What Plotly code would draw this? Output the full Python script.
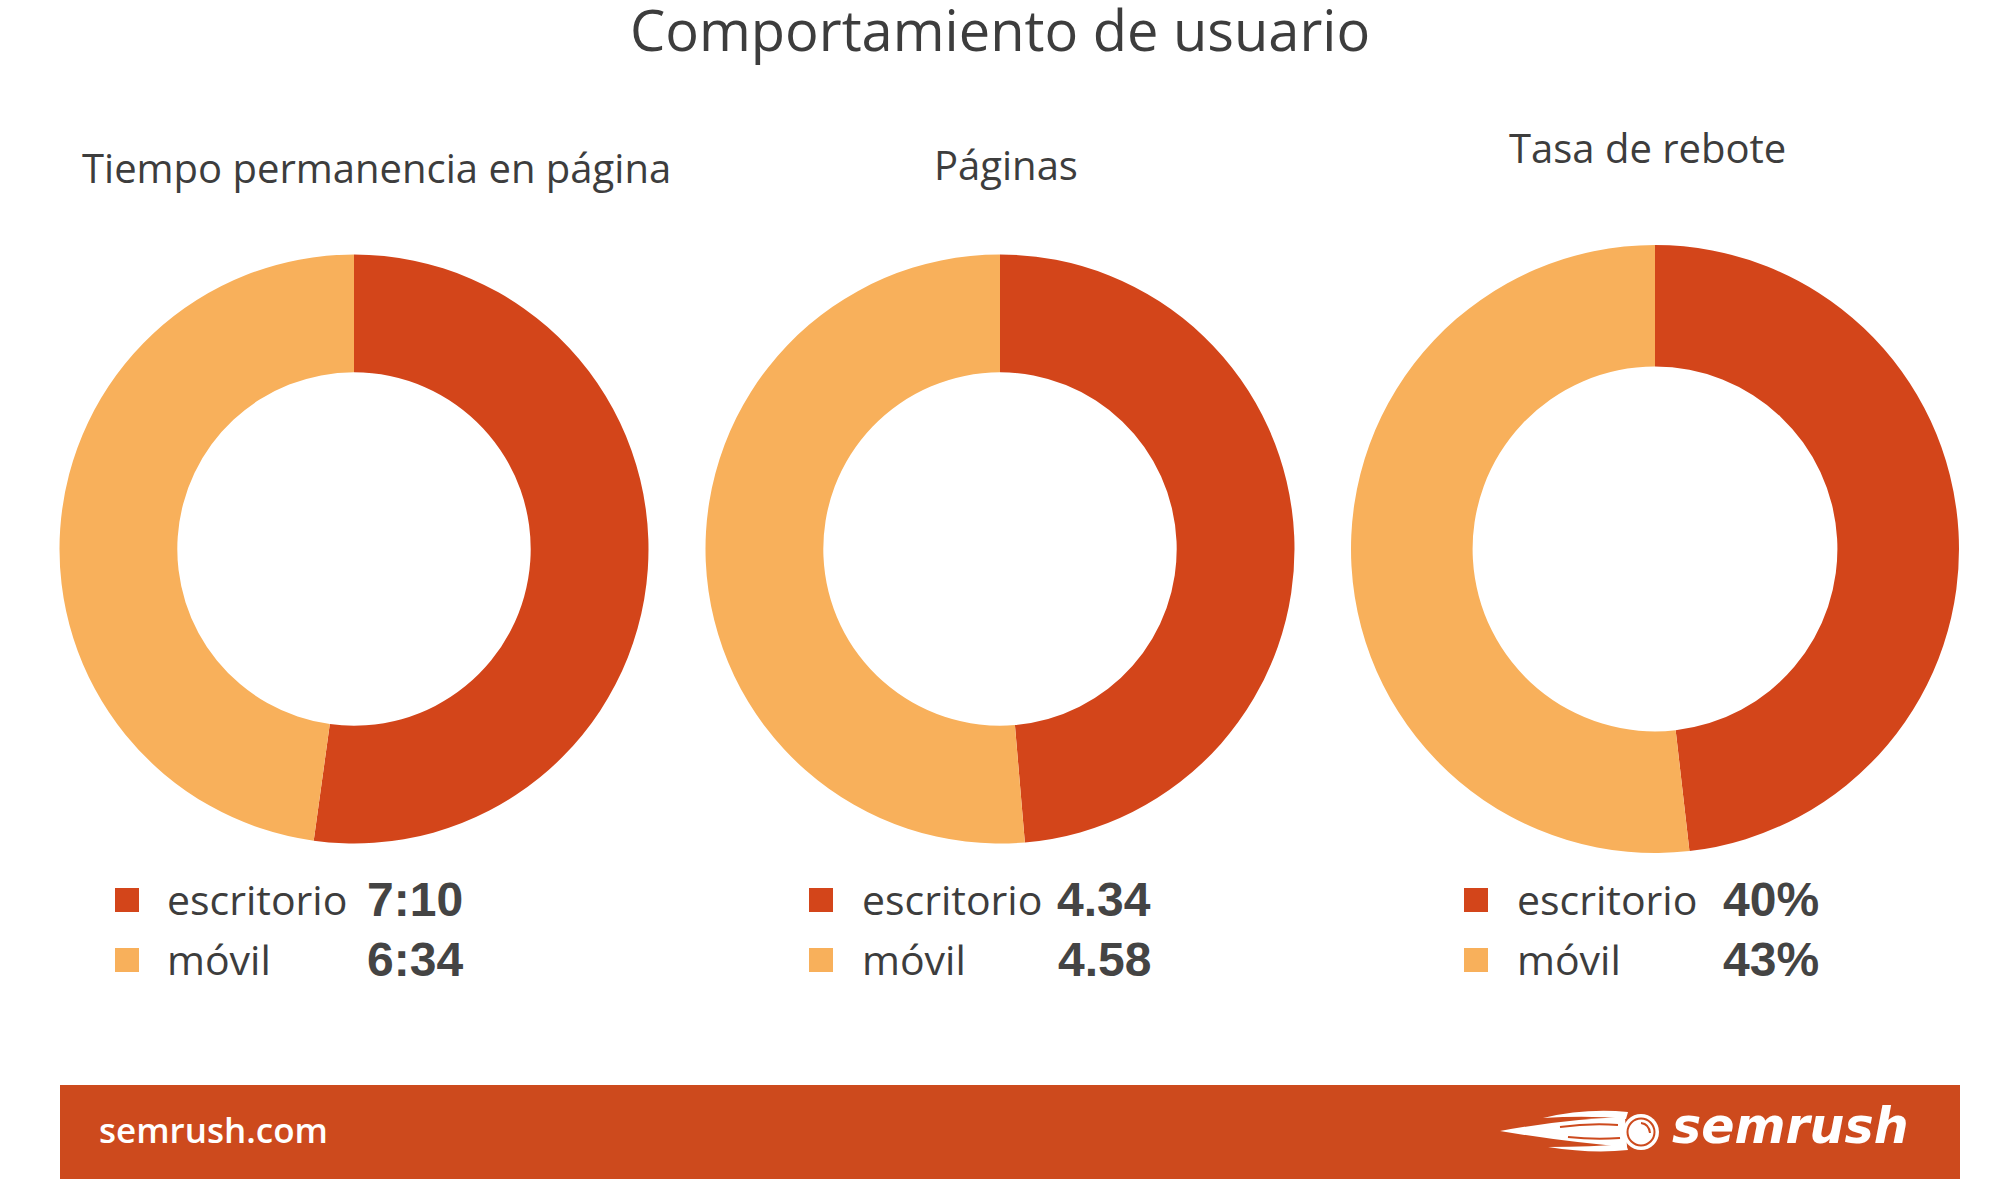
import plotly.graph_objects as go

# ---------------- data ----------------
main_title = "Comportamiento de usuario"
panel_titles = ["Tiempo permanencia en página", "Páginas", "Tasa de rebote"]
categories = ["escritorio", "móvil"]
tiempo_labels = ["7:10", "6:34"]          # minutos:segundos
paginas_values = [4.34, 4.58]
rebote_values = [40, 43]                  # %
footer_site = "semrush.com"
footer_brand = "semrush"


def to_seconds(t):
    m, s = t.split(":")
    return int(m) * 60 + int(s)


tiempo_values = [to_seconds(t) for t in tiempo_labels]
panel_values = [tiempo_values, paginas_values, rebote_values]
panel_texts = [tiempo_labels,
               [f"{v:.2f}" for v in paginas_values],
               [f"{v}%" for v in rebote_values]]

# ---------------- style / layout ----------------
W, H = 1999, 1200
RED = "#D3451A"
ORANGE = "#F8B05B"
BAND = "#CD4A1D"
TEXT = "#3d3d3d"
colors = [RED, ORANGE]

# donut geometry (pixels): centre x, centre y, radius
donuts = [(354, 549, 294.5), (1000, 549, 294.5), (1655, 549, 304)]
title_pos = [(376, 167), (1006, 164), (1647, 147)]
legend_sq_x = [127, 821, 1476]
legend_lbl_x = [165, 860, 1515]
legend_val_r = [465, 1153, 1821]
row_y = [899, 959]


def X(px):
    return px / W


def Y(py):
    return 1 - py / H


fig = go.Figure()

for i, (vals, (cx, cy, r)) in enumerate(zip(panel_values, donuts)):
    fig.add_trace(go.Pie(
        labels=categories, values=vals, hole=0.6, sort=False,
        direction="clockwise", rotation=0, textinfo="none",
        marker=dict(colors=colors, line=dict(width=0)),
        domain=dict(x=[X(cx - r), X(cx + r)], y=[Y(cy + r), Y(cy - r)]),
        showlegend=False, name=panel_titles[i],
    ))

annotations = []
shapes = []

annotations.append(dict(text=main_title, x=X(1000), y=Y(29), xref="paper", yref="paper",
                        xanchor="center", yanchor="middle", showarrow=False,
                        font=dict(family="Open Sans", size=56, color=TEXT)))

for i, t in enumerate(panel_titles):
    tx, ty = title_pos[i]
    annotations.append(dict(text=t, x=X(tx), y=Y(ty), xref="paper", yref="paper",
                            xanchor="center", yanchor="middle", showarrow=False,
                            font=dict(family="Open Sans", size=40, color=TEXT)))
    for j, cat in enumerate(categories):
        ry = row_y[j]
        shapes.append(dict(type="rect", xref="paper", yref="paper",
                           x0=X(legend_sq_x[i] - 12), x1=X(legend_sq_x[i] + 12),
                           y0=Y(ry + 13), y1=Y(ry - 11),
                           fillcolor=colors[j], line=dict(width=0)))
        annotations.append(dict(text=cat, x=X(legend_lbl_x[i]), y=Y(ry), xref="paper",
                                yref="paper", xanchor="left", yanchor="middle", showarrow=False,
                                font=dict(family="Open Sans", size=41, color=TEXT)))
        annotations.append(dict(text=f"<b>{panel_texts[i][j]}</b>", x=X(legend_val_r[i]),
                                y=Y(ry), xref="paper", yref="paper", xanchor="right",
                                yanchor="middle", showarrow=False,
                                font=dict(family="Liberation Sans", size=48, color="#444444")))

# footer band
shapes.append(dict(type="rect", xref="paper", yref="paper", x0=X(60), x1=X(1960),
                   y0=Y(1179), y1=Y(1085), fillcolor=BAND, line=dict(width=0), layer="below"))
annotations.append(dict(text=footer_site, x=X(97), y=Y(1129), xref="paper", yref="paper",
                        xanchor="left", yanchor="middle", showarrow=False,
                        font=dict(family="Open Sans", size=35, color="white", weight=600)))
annotations.append(dict(text=f"<b><i>{footer_brand}</i></b>", x=X(1670), y=Y(1126),
                        xref="paper", yref="paper", xanchor="left", yanchor="middle",
                        showarrow=False,
                        font=dict(family="DejaVu Sans", size=49, color="white")))


# logo fireball (decorative)
def path(cmds):
    out = []
    for c in cmds:
        if isinstance(c, str):
            out.append(c)
        else:
            out.append(f"{X(c[0]):.5f},{Y(c[1]):.5f}")
    return " ".join(out)


flames = [
    ["M", (1500, 1131), "Q", (1565, 1119), (1625, 1117), "L", (1627, 1147), "Q", (1565, 1142), (1500, 1131), "Z"],
    ["M", (1543, 1118), "Q", (1585, 1108), (1628, 1112), "L", (1626, 1119), "Q", (1590, 1115), (1543, 1118), "Z"],
    ["M", (1548, 1147), "Q", (1592, 1154), (1628, 1150), "L", (1626, 1144), "Q", (1592, 1147), (1548, 1147), "Z"],
]
for f in flames:
    shapes.append(dict(type="path", xref="paper", yref="paper", path=path(f),
                       fillcolor="white", line=dict(width=0)))
for f in [["M", (1560, 1127), "Q", (1590, 1123), (1618, 1125)],
          ["M", (1568, 1137), "Q", (1595, 1140), (1620, 1138)]]:
    shapes.append(dict(type="path", xref="paper", yref="paper", path=path(f),
                       line=dict(color=BAND, width=2)))
shapes.append(dict(type="circle", xref="paper", yref="paper", x0=X(1623), x1=X(1659),
                   y0=Y(1150), y1=Y(1114), fillcolor="white", line=dict(width=0)))
shapes.append(dict(type="circle", xref="paper", yref="paper", x0=X(1627.5), x1=X(1654.5),
                   y0=Y(1145.5), y1=Y(1118.5), fillcolor="white", line=dict(color=BAND, width=2)))
shapes.append(dict(type="path", xref="paper", yref="paper",
                   path=path(["M", (1641, 1123), "Q", (1649, 1124), (1650, 1133)]),
                   line=dict(color=BAND, width=2)))

fig.update_layout(
    width=W, height=H, margin=dict(l=0, r=0, t=0, b=0),
    paper_bgcolor="white", plot_bgcolor="white",
    annotations=annotations, shapes=shapes, showlegend=False,
)

fig.write_html("out.html")
